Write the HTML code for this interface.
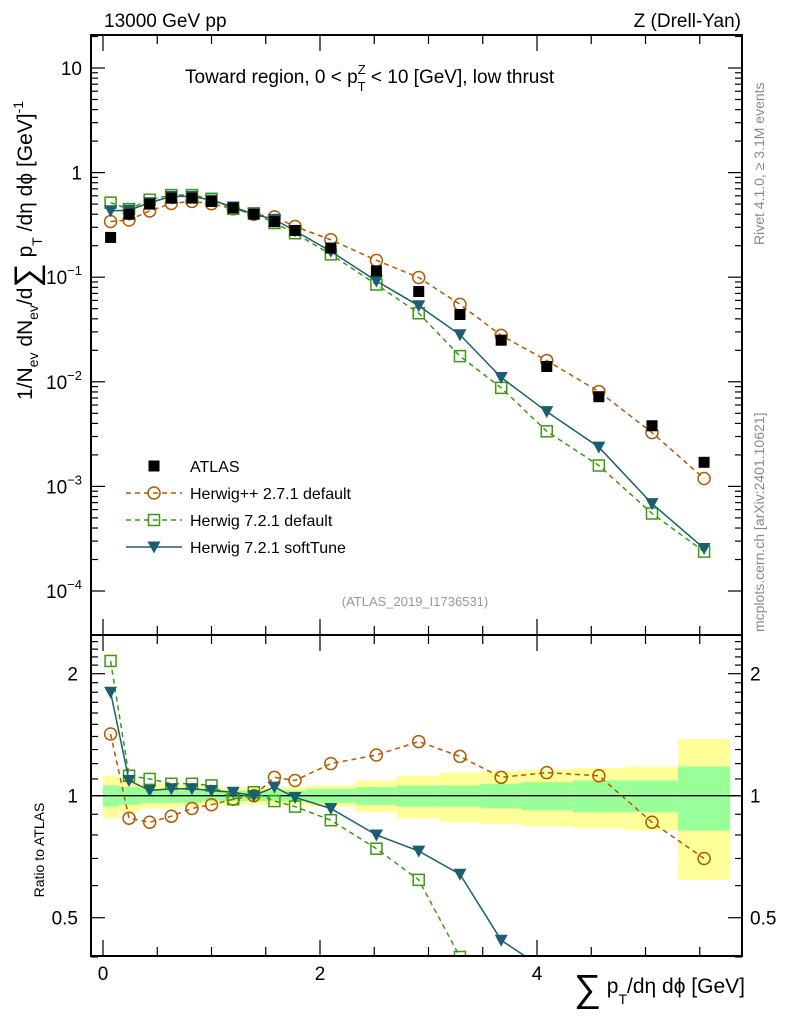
<!DOCTYPE html>
<html><head><meta charset="utf-8"><style>
html,body{margin:0;padding:0;background:#fff;font-family:"Liberation Sans",sans-serif;overflow:hidden;width:786px;height:1024px;}
svg{display:block;}
svg text{font-family:"Liberation Sans","DejaVu Sans",sans-serif;}
</style></head><body>
<svg id="c" width="786" height="1024" xmlns="http://www.w3.org/2000/svg">
<text x="104" y="27" font-size="19">13000 GeV pp</text>
<text x="741" y="27" font-size="19" text-anchor="end">Z (Drell-Yan)</text>
<text x="185" y="83" font-size="19">Toward region, 0 &lt; p<tspan font-size="13" dy="-9">Z</tspan><tspan font-size="13" dx="-8" dy="17">T</tspan><tspan dy="-8"> &lt; 10 [GeV], low thrust</tspan></text>
<text x="415" y="606" font-size="13" fill="#999" text-anchor="middle">(ATLAS_2019_I1736531)</text>
<text transform="translate(764,245) rotate(-90)" font-size="14" fill="#888">Rivet 4.1.0, ≥ 3.1M events</text>
<text transform="translate(764,632) rotate(-90)" font-size="14" fill="#888">mcplots.cern.ch [arXiv:2401.10621]</text>
<text transform="translate(32,400) rotate(-90)" font-size="21">1/N<tspan font-size="14" dy="6">ev</tspan><tspan dy="-6"> dN</tspan><tspan font-size="14" dy="6">ev</tspan><tspan dy="-6">/d</tspan><tspan font-size="34" dy="6">∑</tspan><tspan dy="-6"> p</tspan><tspan font-size="14" dy="10">T</tspan><tspan dy="-10"> /dη dϕ  [GeV]</tspan><tspan font-size="14" dy="-9">-1</tspan></text>
<text transform="translate(44,850) rotate(-90)" font-size="14" text-anchor="middle">Ratio to ATLAS</text>
<text x="745" y="993" font-size="21" text-anchor="end"><tspan font-size="38" dy="8">∑</tspan><tspan dy="-8"> p</tspan><tspan font-size="14" dy="11">T</tspan><tspan dy="-11">/dη dϕ [GeV]</tspan></text>
<g id="g"></g>
</svg>
<script>
const xCenters=[0.07,0.24,0.43,0.63,0.82,1.0,1.2,1.39,1.58,1.77,2.1,2.52,2.91,3.29,3.67,4.09,4.57,5.06,5.54];
const binEdges=[0,0.15,0.34,0.53,0.72,0.91,1.1,1.3,1.48,1.67,1.87,2.33,2.71,3.1,3.48,3.86,4.33,4.81,5.3,5.78];
const atlas=[0.24,0.40,0.50,0.57,0.57,0.53,0.46,0.40,0.34,0.28,0.19,0.115,0.073,0.044,0.025,0.014,0.0072,0.0038,0.0017];
const rHpp=[1.42,0.88,0.86,0.89,0.93,0.95,0.98,1.0,1.11,1.09,1.2,1.26,1.36,1.25,1.11,1.14,1.12,0.86,0.70];
const rH7=[2.15,1.12,1.10,1.07,1.07,1.06,0.98,1.02,0.97,0.94,0.87,0.74,0.62,0.40,0.35,0.24,0.22,0.145,0.14];
const rSoft=[1.8,1.09,1.03,1.04,1.04,1.03,1.02,1.0,1.05,0.99,0.93,0.8,0.73,0.64,0.44,0.37,0.33,0.18,0.15];
const bandGreen=[0.06,0.05,0.04,0.04,0.04,0.03,0.03,0.03,0.03,0.03,0.04,0.05,0.06,0.06,0.07,0.08,0.09,0.09,0.18];
const bandYellow=[0.12,0.09,0.07,0.07,0.06,0.05,0.05,0.05,0.05,0.05,0.06,0.09,0.12,0.14,0.15,0.16,0.17,0.18,0.38];
const xTicks=[0,2,4];
const mainTicks=[1,0,-1,-2,-3,-4];
const ratioTicks=[2,1,0.5];
const NS="http://www.w3.org/2000/svg";
const g=document.getElementById('g');
const L=91,R=742,T=35,MB=635,RB=956;
const X=v=>103+v*108.5;
const Y=v=>68+(1-Math.log10(v))*104.6;
const YR=v=>795.7-Math.log2(v)*122;
function mk(t,a,p){const e=document.createElementNS(NS,t);for(const k in a)e.setAttribute(k,a[k]);(p||g).appendChild(e);return e;}
const defs=mk('defs',{});
const c1=mk('clipPath',{id:'cm'},defs);mk('rect',{x:L,y:T,width:R-L,height:MB-T},c1);
const c2=mk('clipPath',{id:'cr'},defs);mk('rect',{x:L,y:MB,width:R-L,height:RB-MB},c2);
const gm=mk('g',{'clip-path':'url(#cm)'});
const gr=mk('g',{'clip-path':'url(#cr)'});
for(let i=0;i<atlas.length;i++){
 const x1=X(binEdges[i]),x2=X(binEdges[i+1]);
 let b=mk('rect',{x:x1,y:YR(1+bandYellow[i]),width:x2-x1,height:YR(1-bandYellow[i])-YR(1+bandYellow[i]),fill:'#ffff99'},gr);
 
 
 b=mk('rect',{x:x1,y:YR(1+bandGreen[i]),width:x2-x1,height:YR(1-bandGreen[i])-YR(1+bandGreen[i]),fill:'#99ff99'},gr);
 
 
}
mk('line',{x1:L,x2:R,y1:YR(1),y2:YR(1),stroke:'#000','stroke-width':1.3},gr);
const series=[
 {r:rHpp,col:'#b35900',dash:'5,4',m:'circle',name:'herwigpp-271'},
 {r:rH7,col:'#3a9a10',dash:'5,4',m:'square',name:'herwig-721-default'},
 {r:rSoft,col:'#1b5e70',dash:'',m:'tri',name:'herwig-721-softtune'}];
function marker(p,m,x,y,col){
 if(m==='circle')return mk('circle',{cx:x,cy:y,r:6,fill:'none',stroke:col,'stroke-width':1.5},p);
 if(m==='square')return mk('rect',{x:x-5.5,y:y-5.5,width:11,height:11,fill:'none',stroke:col,'stroke-width':1.5},p);
 if(m==='tri')return mk('path',{d:`M${x-6.5},${y-5.5}L${x+6.5},${y-5.5}L${x},${y+6.5}Z`,fill:col},p);
 return mk('rect',{x:x-5.5,y:y-5.5,width:11,height:11,fill:'#000'},p);
}
series.forEach(s=>{
 const mv=s.r.map((r,i)=>r*atlas[i]);
 let pl=mk('polyline',{points:xCenters.map((x,i)=>X(x)+','+Y(mv[i])).join(' '),fill:'none',stroke:s.col,'stroke-width':1.5,'stroke-dasharray':s.dash},gm);
 
 
 let pr=mk('polyline',{points:xCenters.map((x,i)=>X(x)+','+YR(s.r[i])).join(' '),fill:'none',stroke:s.col,'stroke-width':1.5,'stroke-dasharray':s.dash},gr);
 
 
 xCenters.forEach((x,i)=>{
  let e=marker(gm,s.m,X(x),Y(mv[i]),s.col);
  
  
  e=marker(gr,s.m,X(x),YR(s.r[i]),s.col);
  
  
 });
});
xCenters.forEach((x,i)=>{
 const e=marker(gm,'data',X(x),Y(atlas[i]),'#000');
 
 
});
mk('rect',{x:L,y:T,width:R-L,height:MB-T,fill:'none',stroke:'#000','stroke-width':2});
mk('rect',{x:L,y:MB,width:R-L,height:RB-MB,fill:'none',stroke:'#000','stroke-width':2});
mainTicks.forEach(k=>{
 for(let m=1;m<10;m++){const y=Y(m*Math.pow(10,k));if(y<T||y>MB)continue;const len=m===1?14:7;
  mk('line',{x1:L,x2:L+len,y1:y,y2:y,stroke:'#000','stroke-width':1.2});mk('line',{x1:R,x2:R-len,y1:y,y2:y,stroke:'#000','stroke-width':1.2});}
 const y=Y(Math.pow(10,k));
 const t=mk('text',{x:82,y:y+7,'font-size':19,'text-anchor':'end'});
 
 
 if(k===1)t.textContent='10';else if(k===0)t.textContent='1';
 else{t.textContent='10';const s=mk('tspan',{'font-size':13,dy:-9},t);s.textContent='−'+(-k);}
});
[0.4,0.5,0.6,0.7,0.8,0.9,1,1.1,1.2,1.3,1.4,1.5,1.6,1.7,1.8,1.9,2,2.1,2.2,2.3,2.4].forEach(v=>{
 const y=YR(v);const len=(v===0.5||v===1||v===2)?14:7;
 mk('line',{x1:L,x2:L+len,y1:y,y2:y,stroke:'#000','stroke-width':1.2});mk('line',{x1:R,x2:R-len,y1:y,y2:y,stroke:'#000','stroke-width':1.2});
});
ratioTicks.forEach(v=>{
 let t=mk('text',{x:78,y:YR(v)+7,'font-size':19,'text-anchor':'end'});t.textContent=v;
 
 
 t=mk('text',{x:750,y:YR(v)+7,'font-size':19});t.textContent=v;
 
 
});
for(let v=0;v<=5.8;v+=0.5){const x=X(v);const len=(v%2===0)?16:9;
 [[T,1],[MB,1],[MB,-1],[RB,-1]].forEach(([y,d])=>mk('line',{x1:x,x2:x,y1:y,y2:y+d*len,stroke:'#000','stroke-width':1.2}));}
xTicks.forEach(v=>{const t=mk('text',{x:X(v),y:980,'font-size':19,'text-anchor':'middle'});t.textContent=v;
 
 });
const leg=[['data','#000','','ATLAS'],['circle','#b35900','5,4','Herwig++ 2.7.1 default'],['square','#3a9a10','5,4','Herwig 7.2.1 default'],['tri','#1b5e70','','Herwig 7.2.1 softTune']];
leg.forEach((l,i)=>{const y=466+i*27;
 if(l[0]!=='data')mk('line',{x1:126,x2:182,y1:y,y2:y,stroke:l[1],'stroke-width':1.5,'stroke-dasharray':l[2]});
 marker(g,l[0],154,y,l[1]);
 const t=mk('text',{x:190,y:y+6,'font-size':16});t.textContent=l[3];
 
 });
</script>
</body></html>
